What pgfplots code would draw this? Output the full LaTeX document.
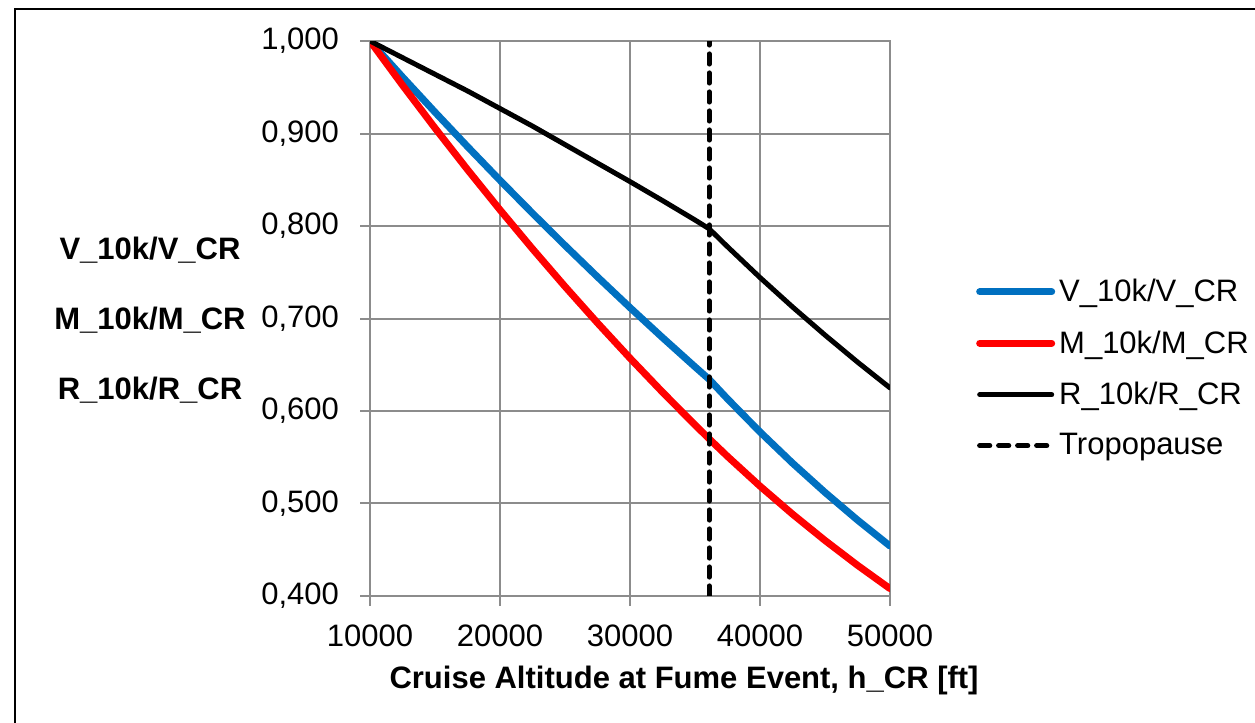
\documentclass[border=0pt]{standalone}
\usepackage{pgfplots}
\pgfplotsset{compat=1.18}
\usepackage{fontspec}
\setmainfont{Liberation Sans}
\definecolor{xlblue}{HTML}{0070C0}
\definecolor{gridgray}{HTML}{8C8C8C}
\newcommand\tf{\fontsize{15.5pt}{18pt}\selectfont}

\pgfplotstableread{
h v
10000 1.00000
12500 0.96113
15000 0.92308
17500 0.88584
20000 0.84941
22500 0.81379
25000 0.77898
27500 0.74498
30000 0.71178
32500 0.67937
35000 0.64777
36089 0.63426
37500 0.61311
40000 0.57736
42500 0.54370
45000 0.51200
47500 0.48214
50000 0.45403
}\tblV
\pgfplotstableread{
h m
10000 1.00000
12500 0.95222
15000 0.90588
17500 0.86096
20000 0.81745
22500 0.77533
25000 0.73458
27500 0.69519
30000 0.65713
32500 0.62038
35000 0.58494
36089 0.56991
37500 0.55091
40000 0.51878
42500 0.48853
45000 0.46005
47500 0.43322
50000 0.40796
}\tblM
\pgfplotstableread{
h r
10000 1.000
12500 0.982
15000 0.964
17500 0.946
20000 0.927
22500 0.908
25000 0.888
27500 0.868
30000 0.848
32500 0.8275
35000 0.8065
36089 0.797
37500 0.7776
40000 0.7443
42500 0.7125
45000 0.6821
47500 0.6529
50000 0.625
}\tblR

\begin{document}
\begin{tikzpicture}
\useasboundingbox (0,0) rectangle (627.5pt,361.5pt);
\draw[line width=1pt] (7.5pt,-5pt) -- (7.5pt,357pt) -- (640pt,357pt);
\node[font=\tf\bfseries] at (75pt,236.5pt) {V\_10k/V\_CR};
\node[font=\tf\bfseries] at (75pt,201.5pt) {M\_10k/M\_CR};
\node[font=\tf\bfseries] at (75pt,166.5pt) {R\_10k/R\_CR};
\begin{axis}[
  at={(185pt,63.5pt)}, anchor=south west,
  scale only axis, width=260pt, height=277.5pt,
  xmin=10000, xmax=50000, ymin=0.4, ymax=1.0,
  xtick={10000,20000,30000,40000,50000},
  ytick={0.4,0.5,0.6,0.7,0.8,0.9,1.0},
  grid=major,
  major grid style={gridgray, line width=1pt},
  axis line style={gridgray, line width=1pt},
  tick style={gridgray, line width=1pt},
  tick align=outside, major tick length=5pt,
  xtick pos=left, ytick pos=left,
  scaled x ticks=false, scaled y ticks=false,
  /pgf/number format/assume math mode=true,
  ticklabel style={font=\tf},
  x tick label style={/pgf/number format/1000 sep={}, yshift=-6pt},
  y tick label style={/pgf/number format/.cd, fixed, fixed zerofill, precision=3, use comma, /tikz/.cd, xshift=-7pt},
  xlabel={Cruise Altitude at Fume Event, h\_CR [ft]},
  xlabel style={font=\tf\bfseries, at={(axis description cs:0.604,-0.153)}, anchor=center},
  legend style={at={(axis description cs:1.165,0.41)}, anchor=west, draw=none, fill=none,
    inner sep=0pt, font=\tf, row sep=9pt},
  legend cell align=left,
  legend image code/.code={\draw[#1] (0pt,0pt) -- (36pt,0pt);},
]
\addplot[xlblue, line width=3.5pt, line join=round, line cap=round] table[x=h,y=v] {\tblV};
\addlegendentry{V\_10k/V\_CR}
\addplot[red, line width=3.5pt, line join=round, line cap=round] table[x=h,y=m] {\tblM};
\addlegendentry{M\_10k/M\_CR}
\addplot[black, line width=2.5pt, line join=round, line cap=round] table[x=h,y=r] {\tblR};
\addlegendentry{R\_10k/R\_CR}
\addplot[black, line width=2.6pt, line cap=round, dash pattern=on 5pt off 4.5pt] coordinates {(36089,0.4) (36089,1.0)};
\addlegendentry{Tropopause}
\end{axis}
\end{tikzpicture}
\end{document}
